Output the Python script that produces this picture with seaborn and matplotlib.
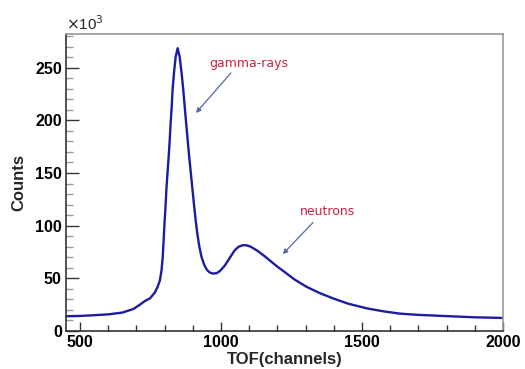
import matplotlib
matplotlib.use("Agg")
import matplotlib.pyplot as plt
import matplotlib.ticker as mticker
import pandas as pd
import seaborn as sns

# TOF spectrum (channel, counts)
tof_channels = [450, 500, 550, 600, 650, 690, 712, 730, 748, 765, 775, 783, 789,
                793, 797, 800, 803, 806, 810, 814, 818, 821, 825, 828, 833, 839,
                846, 853, 860, 866, 871, 876, 881, 886, 892, 898, 904, 910, 916,
                923, 931, 940, 950, 960, 972, 985, 996, 1013, 1031, 1048, 1062,
                1078, 1092, 1105, 1126, 1150, 1175, 1200, 1228, 1260, 1303, 1350,
                1397, 1450, 1517, 1580, 1634, 1700, 1812, 1900, 2000]
counts = [14000, 14300, 15000, 15800, 17500, 21000, 25000, 28500, 31000, 36500,
          42000, 48000, 58000, 70000, 90000, 105000, 118000, 134000, 150000,
          165000, 182000, 197000, 213000, 229000, 245000, 260500, 268500, 260500,
          245000, 229000, 213000, 198000, 183000, 168000, 152000, 136000, 120000,
          105000, 92000, 80000, 70000, 63000, 58000, 55500, 54500, 55000, 57000,
          62000, 69500, 76500, 80000, 81500, 81300, 80000, 76700, 72000, 66500,
          61000, 55500, 49000, 42000, 36000, 31000, 26000, 21500, 18500, 16500,
          15300, 14000, 13000, 12400]

y_major = [0, 50000, 100000, 150000, 200000, 250000]
x_major = [500, 1000, 1500, 2000]

annotations = [
    ("gamma-rays", (1099, 254000), (1035, 245000), (911, 207000)),
    ("neutrons", (1377, 113000), (1326, 103000), (1219, 73000)),
]

df = pd.DataFrame({"TOF": tof_channels, "Counts": counts})

sns.set_theme(style="white")
plt.rcParams["font.family"] = ["Liberation Sans", "DejaVu Sans"]

fig = plt.figure(figsize=(5.25, 3.69), dpi=100)
ax = fig.add_axes([66 / 525, 38 / 369, 437 / 525, 297 / 369])

sns.lineplot(data=df, x="TOF", y="Counts", ax=ax, color="#1c1ca0",
             linewidth=1.7, estimator=None)

ax.set_xlim(450, 2000)
ax.set_ylim(0, 282000)
ax.set_xticks(x_major)
ax.set_yticks(y_major)
ax.xaxis.set_minor_locator(mticker.MultipleLocator(100))
ax.yaxis.set_minor_locator(mticker.MultipleLocator(10000))
ax.yaxis.set_major_formatter(mticker.FuncFormatter(lambda v, p: f"{v / 1000:g}"))

ax.tick_params(axis="both", which="both", direction="in", colors="#333333",
               labelcolor="black", labelsize=11.5, pad=3,
               bottom=True, left=True, top=False, right=False)
ax.tick_params(axis="y", which="major", length=9.5, width=1)
ax.tick_params(axis="y", which="minor", length=5, width=1, colors="#999999")
ax.tick_params(axis="x", which="major", length=6.5, width=1)
ax.tick_params(axis="x", which="minor", length=4.3, width=1)
for lab in ax.get_xticklabels() + ax.get_yticklabels():
    lab.set_fontweight("bold")

for side in ("left", "bottom"):
    ax.spines[side].set_color("#333333")
    ax.spines[side].set_linewidth(1.2)
for side in ("top", "right"):
    ax.spines[side].set_color("#999999")
    ax.spines[side].set_linewidth(1.2)

ax.set_xlabel("TOF(channels)", fontsize=12, fontweight="bold", labelpad=1)
ax.set_ylabel("Counts", fontsize=12, fontweight="bold", labelpad=6)

ax.text(0.0, 1.005, r"$\times$10$^3$", transform=ax.transAxes, fontsize=11,
        ha="left", va="bottom")

for label, text_xy, tail_xy, head_xy in annotations:
    ax.text(*text_xy, label, color="#cc2244", fontsize=9, ha="center",
            va="center", family="DejaVu Sans")
    ax.annotate("", xy=head_xy, xytext=tail_xy,
                arrowprops=dict(arrowstyle="-|>", color="#5566aa", lw=0.9,
                                mutation_scale=7, shrinkA=0, shrinkB=0))

fig.savefig("out.png", dpi=100)
